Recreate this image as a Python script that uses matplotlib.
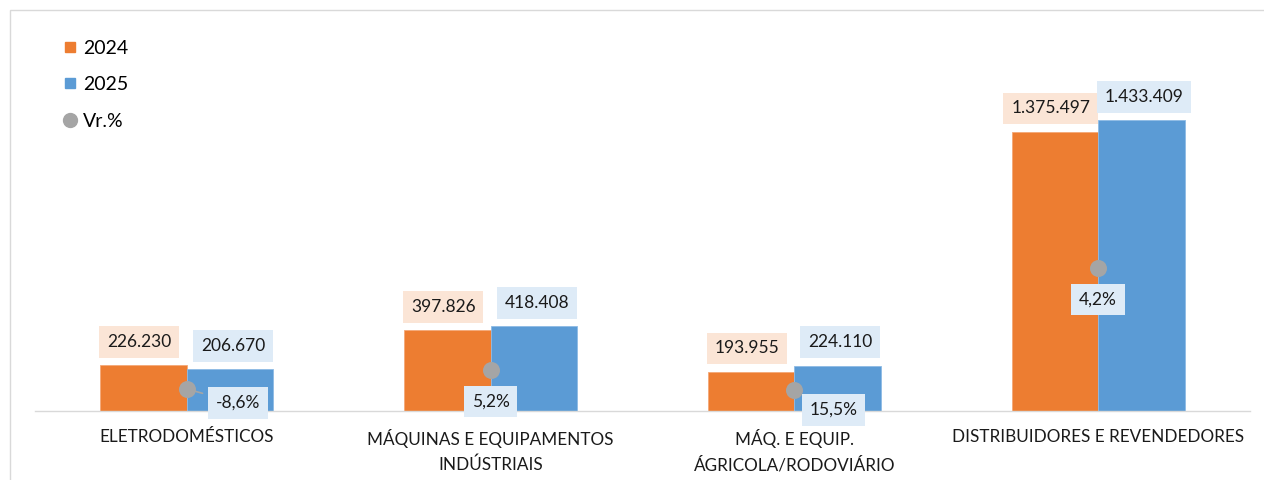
import matplotlib
matplotlib.use('Agg')
import matplotlib.pyplot as plt
from matplotlib.lines import Line2D
from matplotlib.patches import Rectangle
import numpy as np

# Data
categories = ['ELETRODOMÉSTICOS', 'MÁQUINAS E EQUIPAMENTOS\nINDÚSTRIAIS',
              'MÁQ. E EQUIP.\nÁGRICOLA/RODOVIÁRIO', 'DISTRIBUIDORES E REVENDEDORES']
vals_2024 = [226230, 397826, 193955, 1375497]
vals_2025 = [206670, 418408, 224110, 1433409]
var_pct = [-8.6, 5.2, 15.5, 4.2]
# offsets (px) of the variation labels relative to their dot, as placed in the original
var_label_offsets = [(51, -14), (0, -32), (39, -20), (0, -31)]

ORANGE = '#ED7D31'
BLUE = '#5B9BD5'
GRAY = '#A5A5A5'
ORANGE_LIGHT = '#FBE5D6'
BLUE_LIGHT = '#DEEBF7'
TEXT = '#1A1A1A'

plt.rcParams['font.family'] = ['Lato', 'DejaVu Sans']


def fmt_br(v):
    return f'{v:,}'.replace(',', '.')


def fmt_pct(v):
    return f'{v:.1f}%'.replace('.', ',')


W, H = 1264, 480
fig = plt.figure(figsize=(W / 100, H / 100), dpi=100)
ax = fig.add_axes([35 / W, 69 / H, (1250 - 35) / W, (411 - 20) / H])

# outer chart border (only top/left visible in the crop)
fig.patches.append(Rectangle((10 / W, -0.1), 1.2, 1 - 10 / H + 0.1, transform=fig.transFigure,
                             fill=False, edgecolor='#D9D9D9', linewidth=1))

x = np.arange(len(categories))
width = 0.285
b24 = ax.bar(x - width / 2, vals_2024, width, color=ORANGE, edgecolor='#F4A877', linewidth=0.6)
b25 = ax.bar(x + width / 2, vals_2025, width, color=BLUE, edgecolor='#8DBBE5', linewidth=0.6)

label_box = dict(boxstyle='square,pad=0.45', edgecolor='none')

# value labels above bars (2024 labels nudged left like Excel does)
for bars, vals, fill, nudge in [(b24, vals_2024, ORANGE_LIGHT, -3), (b25, vals_2025, BLUE_LIGHT, 2)]:
    for rect, v in zip(bars, vals):
        ax.annotate(fmt_br(v), (rect.get_x() + rect.get_width() / 2, rect.get_height()),
                    xytext=(nudge, 11), textcoords='offset points', ha='center', va='bottom',
                    fontsize=12.5, color=TEXT, bbox=dict(label_box, facecolor=fill))

# variation markers placed in the middle of each bar pair
dot_y = [(a + b) / 4 for a, b in zip(vals_2024, vals_2025)]
ax.scatter(x, dot_y, s=150, color=GRAY, zorder=4, linewidths=0)

for i, (xi, yi, p) in enumerate(zip(x, dot_y, var_pct)):
    dx, dy = var_label_offsets[i]
    arrow = None
    if i == 0:
        arrow = dict(arrowstyle='-', color=GRAY, lw=1.2, shrinkA=4, shrinkB=0)
    ax.annotate(fmt_pct(p), (xi, yi), xytext=(dx * 0.72, dy * 0.72),
                textcoords='offset points', ha='center', va='center',
                fontsize=12.5, color=TEXT, zorder=5, arrowprops=arrow,
                bbox=dict(label_box, facecolor=BLUE_LIGHT))

ax.set_xlim(-0.5, len(categories) - 0.5)
ax.set_ylim(0, 1433409 * 391 / 291)
ax.set_xticks(x)
ax.set_xticklabels(categories, fontsize=12.3, color=TEXT, linespacing=1.65)
ax.tick_params(axis='x', length=0, pad=13)
ax.set_yticks([])
for side in ['top', 'right', 'left']:
    ax.spines[side].set_visible(False)
ax.spines['bottom'].set_color('#D9D9D9')
ax.spines['bottom'].set_linewidth(1)

handles = [
    Line2D([], [], marker='s', linestyle='none', markersize=7.5, color=ORANGE),
    Line2D([], [], marker='s', linestyle='none', markersize=7.5, color=BLUE),
    Line2D([], [], marker='o', linestyle='none', markersize=10, color=GRAY),
]
fig.legend(handles, ['2024', '2025', 'Vr.%'], loc='upper left',
           bbox_to_anchor=(54 / W, 1 - 30 / H), frameon=False, fontsize=14,
           handlelength=0.6, handletextpad=0.4, labelspacing=1.0, borderpad=0)

fig.savefig('out.png', dpi=100)
